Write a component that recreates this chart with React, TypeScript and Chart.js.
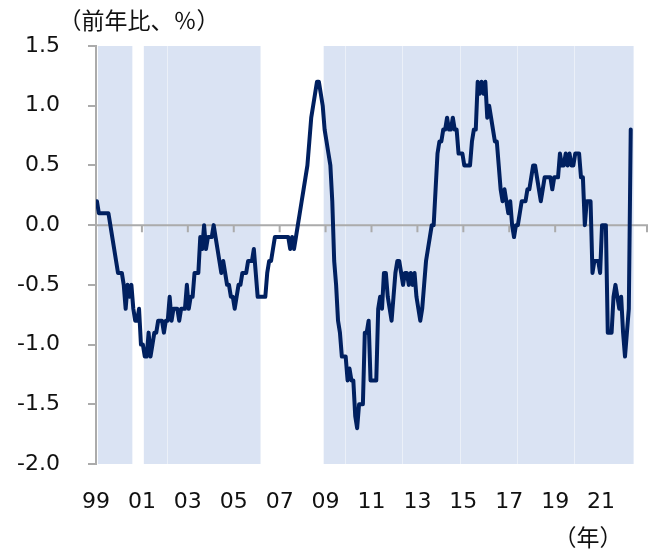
import { useEffect, useRef } from 'react';
import { Chart, registerables } from 'chart.js';

Chart.register(...registerables);

// Monthly year-on-year change (%), Jan 1999 – Apr 2022
const y1999 = [0.2, 0.1, 0.1, 0.1, 0.1, 0.1, 0.1, 0.0, -0.1, -0.2, -0.3, -0.4];
const y2000 = [-0.4, -0.4, -0.5, -0.7, -0.5, -0.6, -0.5, -0.7, -0.8, -0.8, -0.7, -1.0];
const y2001 = [-1.0, -1.1, -1.1, -0.9, -1.1, -1.0, -0.9, -0.9, -0.8, -0.8, -0.8, -0.9];
const y2002 = [-0.8, -0.8, -0.6, -0.8, -0.7, -0.7, -0.7, -0.8, -0.7, -0.7, -0.7, -0.5];
const y2003 = [-0.7, -0.6, -0.6, -0.4, -0.4, -0.4, -0.1, -0.2, 0.0, -0.2, -0.1, -0.1];
const y2004 = [-0.1, 0.0, -0.1, -0.2, -0.3, -0.4, -0.3, -0.4, -0.5, -0.5, -0.6, -0.6];
const y2005 = [-0.7, -0.6, -0.5, -0.5, -0.4, -0.4, -0.4, -0.3, -0.3, -0.3, -0.2, -0.4];
const y2006 = [-0.6, -0.6, -0.6, -0.6, -0.6, -0.4, -0.3, -0.3, -0.2, -0.1, -0.1, -0.1];
const y2007 = [-0.1, -0.1, -0.1, -0.1, -0.1, -0.2, -0.1, -0.2, -0.1, 0.0, 0.1, 0.2];
const y2008 = [0.3, 0.4, 0.5, 0.7, 0.9, 1.0, 1.1, 1.2, 1.2, 1.1, 1.0, 0.8];
const y2009 = [0.7, 0.6, 0.5, 0.2, -0.3, -0.5, -0.8, -0.9, -1.1, -1.1, -1.1, -1.3];
const y2010 = [-1.2, -1.3, -1.3, -1.6, -1.7, -1.5, -1.5, -1.5, -0.9, -0.9, -0.8, -1.3];
const y2011 = [-1.3, -1.3, -1.3, -0.7, -0.6, -0.7, -0.4, -0.4, -0.6, -0.7, -0.8, -0.6];
const y2012 = [-0.4, -0.3, -0.3, -0.4, -0.5, -0.4, -0.4, -0.5, -0.4, -0.5, -0.4, -0.6];
const y2013 = [-0.7, -0.8, -0.7, -0.5, -0.3, -0.2, -0.1, 0.0, 0.0, 0.3, 0.6, 0.7];
const y2014 = [0.7, 0.8, 0.8, 0.9, 0.8, 0.8, 0.9, 0.8, 0.8, 0.6, 0.6, 0.6];
const y2015 = [0.5, 0.5, 0.5, 0.5, 0.7, 0.8, 0.8, 1.2, 1.1, 1.2, 1.1, 1.2];
const y2016 = [0.9, 1.0, 0.9, 0.8, 0.7, 0.7, 0.5, 0.3, 0.2, 0.3, 0.2, 0.1];
const y2017 = [0.2, 0.0, -0.1, 0.0, 0.0, 0.1, 0.2, 0.2, 0.2, 0.3, 0.3, 0.4];
const y2018 = [0.5, 0.5, 0.4, 0.3, 0.2, 0.3, 0.4, 0.4, 0.4, 0.4, 0.3, 0.4];
const y2019 = [0.4, 0.4, 0.6, 0.5, 0.5, 0.6, 0.5, 0.6, 0.5, 0.5, 0.6, 0.6];
const y2020 = [0.6, 0.4, 0.4, 0.0, 0.2, 0.2, 0.2, -0.4, -0.3, -0.3, -0.3, -0.4];
const y2021 = [0.0, 0.0, 0.0, -0.9, -0.9, -0.9, -0.6, -0.5, -0.6, -0.7, -0.6, -0.9];
const y2022 = [-1.1, -0.9, -0.7, 0.8];

const monthlyValues = [
  ...y1999, ...y2000, ...y2001, ...y2002, ...y2003, ...y2004, ...y2005, ...y2006,
  ...y2007, ...y2008, ...y2009, ...y2010, ...y2011, ...y2012, ...y2013, ...y2014,
  ...y2015, ...y2016, ...y2017, ...y2018, ...y2019, ...y2020, ...y2021, ...y2022,
];

// x tick labels every 24 months starting Jan 1999 (last tick, 2023, unlabeled)
const xTickLabels = ['99', '01', '03', '05', '07', '09', '11', '13', '15', '17', '19', '21', ''];

// Shaded periods as [start, end) in months since Jan 1999
const shadedPeriods: [number, number][] = [[1, 19], [25, 86], [119, 281]];
// Faint seams inside the shaded area (months since Jan 1999)
const shadeSeams = [37, 130, 160, 190, 220, 250];

const yTitle = '（前年比、％）';
const xUnit = '（年）';

const AXIS_GRAY = '#ABABAB';
const SHADE = '#DAE3F3';
const LINE = '#002060';

const decorations = {
  id: 'decorations',
  beforeDraw(chart: any) {
    const { ctx, chartArea: a, scales } = chart;
    const x = scales.x;
    const y = scales.y;
    ctx.save();
    ctx.fillStyle = SHADE;
    for (const [s, e] of shadedPeriods) {
      const x0 = x.getPixelForValue(s);
      const x1 = x.getPixelForValue(e);
      ctx.fillRect(x0, a.top, x1 - x0, a.bottom - a.top);
    }
    ctx.strokeStyle = 'rgba(255,255,255,0.45)';
    ctx.lineWidth = 1;
    for (const m of shadeSeams) {
      const px = Math.round(x.getPixelForValue(m)) + 0.5;
      ctx.beginPath();
      ctx.moveTo(px, a.top);
      ctx.lineTo(px, a.bottom);
      ctx.stroke();
    }
    const y0 = y.getPixelForValue(0);
    ctx.strokeStyle = AXIS_GRAY;
    ctx.lineWidth = 2;
    ctx.beginPath();
    ctx.moveTo(a.left, y0);
    ctx.lineTo(a.right + 1, y0);
    for (const t of x.ticks) {
      const px = x.getPixelForValue(t.value);
      ctx.moveTo(px, y0);
      ctx.lineTo(px, y0 + 7);
    }
    ctx.stroke();
    ctx.restore();
  },
  afterDraw(chart: any) {
    const { ctx } = chart;
    ctx.save();
    ctx.fillStyle = '#111111';
    ctx.font = '23px "Noto Sans CJK JP"';
    ctx.textAlign = 'center';
    ctx.textBaseline = 'middle';
    ctx.fillText(yTitle, 139, 20);
    ctx.fillText(xUnit, 588, 537);
    ctx.restore();
  },
};

export default function App() {
  const canvasRef = useRef<HTMLCanvasElement | null>(null);

  useEffect(() => {
    const canvas = canvasRef.current;
    if (!canvas) return;
    const data = monthlyValues.map((v, i) => ({ x: i + 0.5, y: v }));
    const chart = new Chart(canvas, {
      type: 'line',
      data: {
        datasets: [
          {
            data,
            borderColor: LINE,
            borderWidth: 4,
            pointRadius: 0,
            tension: 0,
            borderJoinStyle: 'round',
            borderCapStyle: 'round',
            fill: false,
          },
        ],
      },
      options: {
        animation: false,
        responsive: false,
        maintainAspectRatio: false,
        layout: { padding: { left: 0, right: 7, top: 46, bottom: 0 } },
        plugins: { legend: { display: false }, tooltip: { enabled: false } },
        scales: {
          x: {
            type: 'linear',
            min: 0,
            max: 288,
            afterFit: (scale: any) => {
              scale.height = 86;
              scale.paddingLeft = 0;
              scale.paddingRight = 0;
            },
            ticks: {
              stepSize: 24,
              autoSkip: false,
              maxRotation: 0,
              padding: 25,
              color: '#111111',
              font: { family: '"DejaVu Sans"', size: 22 },
              callback: (value: any) => xTickLabels[Math.round(Number(value) / 24)] ?? '',
            },
            grid: { display: false, drawTicks: false },
            border: { display: false },
          },
          y: {
            min: -2,
            max: 1.5,
            afterFit: (scale: any) => {
              scale.width = 96;
            },
            ticks: {
              stepSize: 0.5,
              padding: 28,
              color: '#111111',
              font: { family: '"DejaVu Sans"', size: 22 },
              callback: (value: any) => Number(value).toFixed(1),
            },
            grid: { drawOnChartArea: false, tickLength: 8, color: AXIS_GRAY, lineWidth: 2 },
            border: { color: AXIS_GRAY, width: 2 },
          },
        },
      },
      plugins: [decorations],
    });
    return () => chart.destroy();
  }, []);

  return (
    <div style={{ position: 'fixed', left: 0, top: 0, width: 654, height: 550, background: '#fff' }}>
      <canvas ref={canvasRef} width={654} height={550} style={{ display: 'block' }} />
    </div>
  );
}
